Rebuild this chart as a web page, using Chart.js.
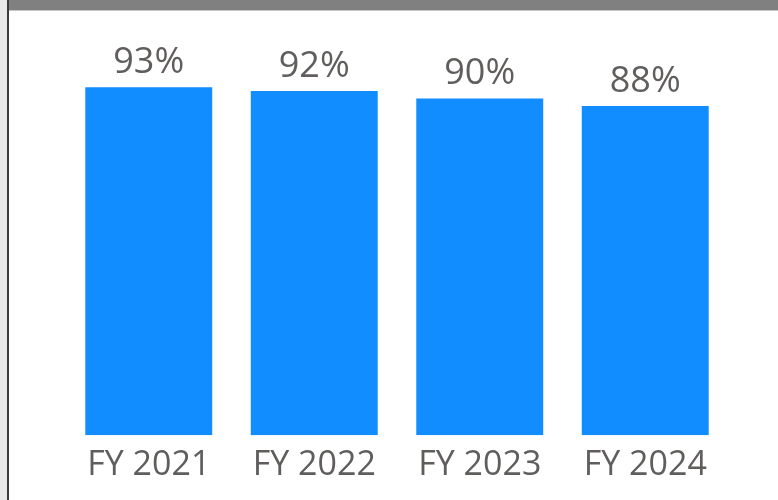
<!DOCTYPE html>
<html>
<head>
<meta charset="utf-8">
<script src="https://cdn.jsdelivr.net/npm/chart.js@4/dist/chart.umd.min.js"></script>
<style>
  html, body { margin: 0; padding: 0; background: #fff; overflow: hidden; }
  #wrap { position: relative; width: 778px; height: 500px; }
  #budgetCanvas { position: absolute; left: 0; top: 0; }
  .edge { position: absolute; }
</style>
</head>
<body>
<div id="wrap">
  <canvas id="budgetCanvas" width="778" height="500"></canvas>
  <div class="edge" style="left:0;top:0;width:7px;height:500px;background:#e8e8e8"></div>
  <div class="edge" style="left:7px;top:0;width:2px;height:500px;background:#3a3a3a"></div>
  <div class="edge" style="left:9px;top:0;width:769px;height:10px;background:#808080"></div>
  <div class="edge" style="left:9px;top:10px;width:769px;height:1px;background:#c4c4c4"></div>
</div>
<script>
let years = ["FY 2021", "FY 2022", "FY 2023", "FY 2024"];
let rates = [93, 92, 90, 88];

let barLabels = {
    id: "barLabels",
    afterDatasetsDraw(chart) {
        let c = chart.ctx;
        c.save();
        c.font = "36px 'Open Sans'";
        c.fillStyle = "#605E5C";
        c.textAlign = "center";
        c.textBaseline = "alphabetic";
        chart.getDatasetMeta(0).data.forEach((bar, i) => {
            c.fillText(rates[i] + "%", bar.x, bar.y - 14);
        });
        c.restore();
    }
};

let ctx = document.getElementById("budgetCanvas");

new Chart(ctx, {
    type: "bar",
    data: {
        labels: years,
        datasets: [{
            data: rates,
            backgroundColor: "#118DFF",
            barPercentage: 0.767,
            categoryPercentage: 1
        }]
    },
    options: {
        responsive: false,
        animation: false,
        layout: { padding: { left: 66, right: 50, top: 61, bottom: 4 } },
        plugins: { legend: { display: false }, tooltip: { enabled: false } },
        scales: {
            x: {
                grid: { display: false, drawTicks: false },
                border: { display: false },
                ticks: { color: "#605E5C", font: { family: "Open Sans", size: 34 }, padding: 10 }
            },
            y: { display: false, min: 0, max: 100 }
        }
    },
    plugins: [barLabels]
});
</script>
</body>
</html>
